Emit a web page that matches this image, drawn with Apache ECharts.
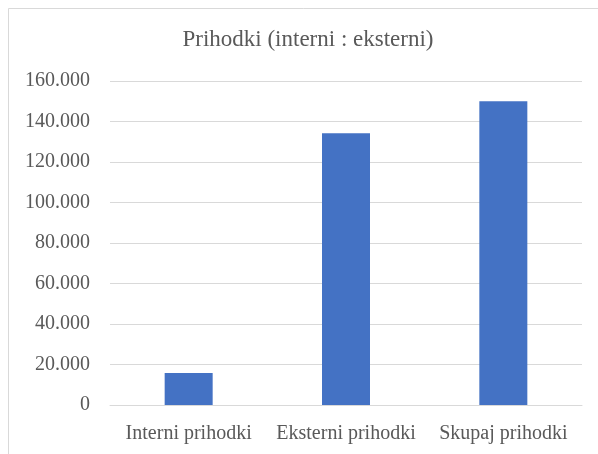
<!DOCTYPE html>
<html><head><meta charset="utf-8">
<script src="https://cdn.jsdelivr.net/npm/echarts@6/dist/echarts.min.js"></script>
<style>html,body{margin:0;padding:0;background:#fff}#c{width:598px;height:454px}</style>
</head><body><div id="c"></div>
<script>
const categories = ['Interni prihodki', 'Eksterni prihodki', 'Skupaj prihodki'];
const values = [15800, 134200, 150000];
const titleText = 'Prihodki (interni : eksterni)';

const chart = echarts.init(document.getElementById('c'));
const font = '"Liberation Serif", "Times New Roman", serif';
chart.setOption({
  animation: false,
  backgroundColor: '#fff',
  graphic: [{type: 'rect', left: 6, top: 6, shape: {width: 700, height: 600}, style: {fill: 'none', stroke: '#d9d9d9', lineWidth: 1}, silent: true}],
  title: {text: titleText, left: 303, top: 23, textAlign: 'center',
    textStyle: {fontFamily: font, fontSize: 23, fontWeight: 'normal', color: '#595959'}},
  grid: {left: 110, right: 16, top: 81, bottom: 49, containLabel: false},
  xAxis: {type: 'category', data: categories,
    axisLine: {lineStyle: {color: '#d9d9d9'}}, axisTick: {show: false},
    axisLabel: {fontFamily: font, fontSize: 20, color: '#595959', margin: 19, interval: 0}},
  yAxis: {type: 'value', min: 0, max: 160000, interval: 20000,
    axisLine: {show: false}, axisTick: {show: false},
    splitLine: {lineStyle: {color: '#d9d9d9'}},
    axisLabel: {fontFamily: font, fontSize: 20, color: '#595959', margin: 20,
      formatter: v => v === 0 ? '0' : v.toLocaleString('de-DE')}},
  series: [{type: 'bar', data: values, barWidth: 48, itemStyle: {color: '#4472C4'}}]
});
</script></body></html>
